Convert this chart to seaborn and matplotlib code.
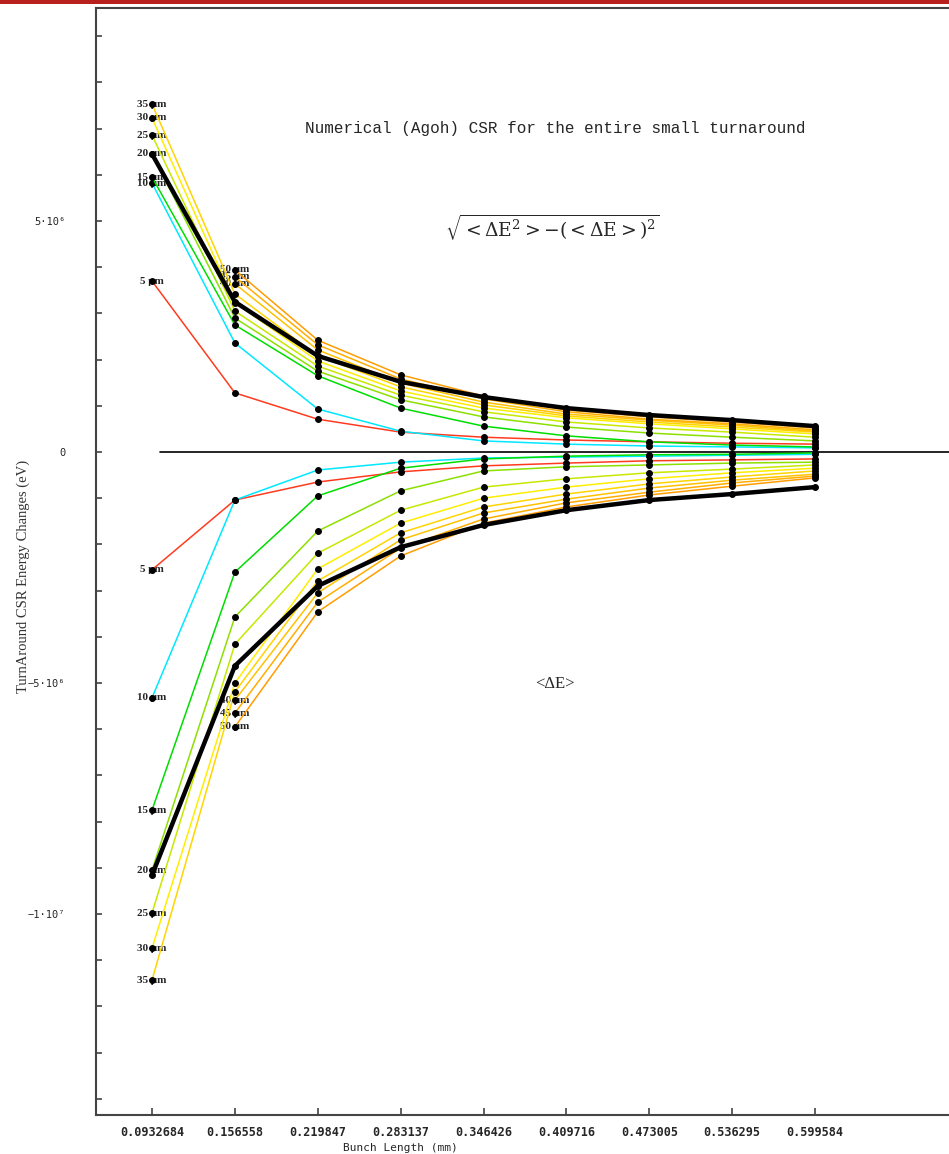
import numpy as np
import matplotlib.pyplot as plt
import seaborn as sns
from matplotlib.patches import Rectangle
from matplotlib.ticker import MultipleLocator

# ── data (energy changes in units of 1e6 eV) ────────────────────────────────
bunch_length = [0.0932684, 0.156558, 0.219847, 0.283137, 0.346426,
                0.409716, 0.473005, 0.536295, 0.599584]
x_labels = ["0.0932684", "0.156558", "0.219847", "0.283137", "0.346426",
            "0.409716", "0.473005", "0.536295", "0.599584"]
emittance = [5, 10, 15, 20, 25, 30, 35, 40, 45, 50]
colors = ["#ff3b1f", "#00e8ff", "#00dd00", "#8ce000", "#c8e800",
          "#ffee00", "#ffd400", "#ffc200", "#ffae00", "#ff9c00"]

# sqrt(<dE^2> - <dE>^2)  (40-50 um start at the second bunch length)
rms_5 = [3.70, 1.28, 0.71, 0.43, 0.32, 0.26, 0.22, 0.19, 0.17]
rms_10 = [5.82, 2.36, 0.93, 0.45, 0.24, 0.17, 0.13, 0.11, 0.09]
rms_15 = [5.95, 2.75, 1.65, 0.95, 0.56, 0.35, 0.22, 0.15, 0.11]
rms_20 = [6.45, 2.90, 1.75, 1.13, 0.76, 0.54, 0.41, 0.32, 0.24]
rms_25 = [6.86, 3.05, 1.86, 1.23, 0.87, 0.65, 0.52, 0.43, 0.32]
rms_30 = [7.23, 3.23, 1.97, 1.32, 0.95, 0.74, 0.61, 0.50, 0.39]
rms_35 = [7.53, 3.42, 2.08, 1.41, 1.02, 0.78, 0.65, 0.54, 0.43]
rms_40 = [3.64, 2.21, 1.49, 1.08, 0.82, 0.69, 0.58, 0.45]
rms_45 = [3.79, 2.32, 1.58, 1.15, 0.87, 0.71, 0.61, 0.48]
rms_50 = [3.94, 2.42, 1.67, 1.21, 0.91, 0.76, 0.65, 0.52]
rms_ref = [6.45, 3.25, 2.08, 1.52, 1.19, 0.95, 0.80, 0.69, 0.56]

# <dE>
mean_5 = [-2.55, -1.04, -0.65, -0.43, -0.30, -0.24, -0.19, -0.17, -0.15]
mean_10 = [-5.32, -1.04, -0.39, -0.22, -0.13, -0.11, -0.09, -0.07, -0.05]
mean_15 = [-7.75, -2.60, -0.95, -0.35, -0.15, -0.09, -0.06, -0.05, -0.02]
mean_20 = [-9.05, -3.57, -1.71, -0.84, -0.41, -0.32, -0.28, -0.24, -0.22]
mean_25 = [-9.98, -4.16, -2.19, -1.26, -0.76, -0.58, -0.45, -0.37, -0.28]
mean_30 = [-10.74, -5.00, -2.53, -1.54, -1.00, -0.76, -0.58, -0.45, -0.35]
mean_35 = [-11.43, -5.19, -2.79, -1.75, -1.19, -0.91, -0.69, -0.54, -0.41]
mean_40 = [-5.37, -3.05, -1.90, -1.32, -1.02, -0.78, -0.61, -0.48]
mean_45 = [-5.65, -3.25, -2.08, -1.45, -1.10, -0.87, -0.67, -0.52]
mean_50 = [-5.95, -3.46, -2.25, -1.54, -1.19, -0.93, -0.74, -0.56]
mean_ref = [-9.16, -4.63, -2.90, -2.06, -1.58, -1.26, -1.04, -0.91, -0.76]

rms = [rms_5, rms_10, rms_15, rms_20, rms_25, rms_30, rms_35, rms_40, rms_45, rms_50]
mean = [mean_5, mean_10, mean_15, mean_20, mean_25, mean_30, mean_35, mean_40, mean_45, mean_50]

# ── figure ──────────────────────────────────────────────────────────────────
sns.set_style("white")
plt.rcParams["font.family"] = ["DejaVu Sans"]

fig = plt.figure(figsize=(9.49, 11.54), dpi=100)
ax = fig.add_axes([96 / 949, 39 / 1154, 853 / 949, 1107 / 1154])
fig.add_artist(Rectangle((0, 1 - 4 / 1154), 1, 4 / 1154, transform=fig.transFigure,
                         color="#b8201e", lw=0))

mk = dict(marker="o", markersize=4.2, markerfacecolor="black", markeredgecolor="black")
lab = dict(ha="center", va="center", fontfamily="Liberation Serif",
           fontweight="bold", fontsize=8, zorder=1)

for em, col, top, bot in zip(emittance, colors, rms, mean):
    xs = bunch_length[-len(top):]
    for ys in (top, bot):
        sns.lineplot(x=xs, y=np.array(ys) * 1e6, color=col, lw=1.1, ax=ax,
                     estimator=None, sort=False, zorder=3, **mk)
        ax.text(xs[0], ys[0] * 1e6, f"{em} \u03bcm", **lab)

for ys in (rms_ref, mean_ref):
    sns.lineplot(x=bunch_length, y=np.array(ys) * 1e6, color="black", lw=3.2, ax=ax,
                 estimator=None, sort=False, zorder=4, **mk)

ax.axhline(0, xmin=(160 - 96) / 853, color="black", lw=1.2, zorder=2)

ax.set_xlim(0.0505, 0.7019)
ax.set_ylim(-14.35e6, 9.61e6)

ax.set_xticks(bunch_length)
ax.set_xticklabels(x_labels, fontfamily="DejaVu Sans Mono", fontweight="bold", fontsize=8.5)
ax.set_yticks([-1e7, -5e6, 0, 5e6])
ax.set_yticklabels(["\u22121\u00b710\u2077", "\u22125\u00b710\u2076", "0", "5\u00b710\u2076"],
                   fontfamily="DejaVu Sans Mono", fontsize=7.5)
ax.yaxis.set_minor_locator(MultipleLocator(1e6))
ax.tick_params(axis="y", which="both", direction="in", length=4, width=1.2,
               pad=22, left=True, color="#444444")
ax.tick_params(axis="x", direction="in", length=5, width=1.2, pad=8, bottom=True,
               color="#444444")

for side in ("left", "bottom", "top"):
    ax.spines[side].set_color("#444444")
    ax.spines[side].set_linewidth(1.5)
ax.spines["right"].set_visible(False)

ax.set_xlabel("Bunch Length (mm)", fontfamily="DejaVu Sans Mono", fontsize=8)
ax.xaxis.set_label_coords((400 - 96) / 853, (1115 - 1143) / 1107)
ax.set_ylabel("TurnAround CSR Energy Changes (eV)", fontfamily="Liberation Serif",
              fontsize=10.5, color="#333333")
ax.yaxis.set_label_coords((30 - 96) / 853, (1115 - 576) / 1107)

ax.text((305 - 96) / 853, (1115 - 129) / 1107,
        "Numerical (Agoh) CSR for the entire small turnaround",
        transform=ax.transAxes, ha="left", va="center",
        fontfamily="Liberation Mono", fontsize=11.5)
ax.text((445 - 96) / 853, (1115 - 227) / 1107,
        r"$\sqrt{<\Delta\mathrm{E}^2> - (<\Delta\mathrm{E}>)^2}$",
        transform=ax.transAxes, ha="left", va="center", fontsize=13.5,
        math_fontfamily="dejavuserif")
ax.text((555 - 96) / 853, (1115 - 684) / 1107, "<\u0394E>",
        transform=ax.transAxes, ha="center", va="center",
        fontfamily="Liberation Serif", fontsize=12)

fig.savefig("out.png", dpi=100)
